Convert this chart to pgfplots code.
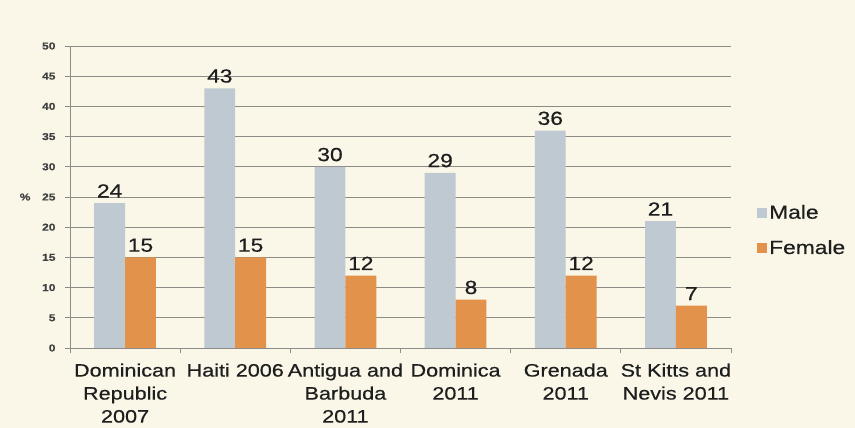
\documentclass[border=0pt]{standalone}
\usepackage{pgfplots}
\pgfplotsset{compat=1.18}
\usepackage{fontspec}
\setmainfont{Liberation Sans}[FakeStretch=1.2, FakeBold=0.5]
\definecolor{bg}{RGB}{250,247,232}
\definecolor{male}{RGB}{190,201,210}
\definecolor{female}{RGB}{226,146,74}
\definecolor{gridc}{RGB}{140,140,135}
\definecolor{txt}{RGB}{30,30,30}
\begin{document}
\begin{tikzpicture}
\fill[bg] (0,0) rectangle (855pt,428pt);
\useasboundingbox (0,0) rectangle (855pt,428pt);
\begin{axis}[
  at={(70pt,80pt)}, anchor=south west,
  scale only axis, width=661pt, height=302pt,
  xmin=-0.5, xmax=5.5, ymin=0, ymax=50,
  axis x line=bottom, axis y line=left,
  axis line style={gridc, line width=0.9pt, -},
  ytick={0,5,...,50},
  ymajorgrids, grid style={gridc, line width=0.9pt},
  tick align=outside, major tick length=5pt,
  tick style={gridc, line width=0.9pt},
  xtick={-0.5,0.5,...,5.5}, xticklabels={},
  extra x ticks={0,1,2,3,4,5},
  extra x tick labels={Dominican\\Republic\\2007, Haiti 2006, Antigua and\\Barbuda\\2011, Dominica\\2011, Grenada\\2011, St Kitts and\\Nevis 2011},
  extra x tick style={major tick length=0pt, grid=none,
    xticklabel style={align=center, anchor=north, yshift=-12pt, font=\fontsize{18}{23}\selectfont, text=txt}},
  /pgf/number format/assume math mode=true,
  yticklabel style={font=\fontsize{10}{12}\selectfont\bfseries, text=txt!85, xshift=-6pt},
  ylabel={\%},
  every axis y label/.style={at={(axis description cs:0,0.5)}, anchor=east, xshift=-36pt, font=\fontsize{10}{12}\selectfont\bfseries, text=txt!85},
  ybar, bar width=0.28,
  nodes near coords,
  every node near coord/.append style={font=\fontsize{19}{20}\selectfont, text=txt, yshift=2pt},
  legend style={at={(1,0.39)}, anchor=west, xshift=26pt, draw=none, fill=none,
    font=\fontsize{19}{20}\selectfont, text=txt, row sep=16pt, inner sep=0pt},
  legend image code/.code={\fill[#1, draw=none] (0pt,-5pt) rectangle (10pt,5pt);},
  legend cell align=left,
]
\addplot[fill=male, draw=none, bar shift=-0.14] coordinates {(0,24) (1,43) (2,30) (3,29) (4,36) (5,21)};
\addplot[fill=female, draw=none, bar shift=0.14] coordinates {(0,15) (1,15) (2,12) (3,8) (4,12) (5,7)};
\legend{Male, Female}
\end{axis}
\end{tikzpicture}
\end{document}
